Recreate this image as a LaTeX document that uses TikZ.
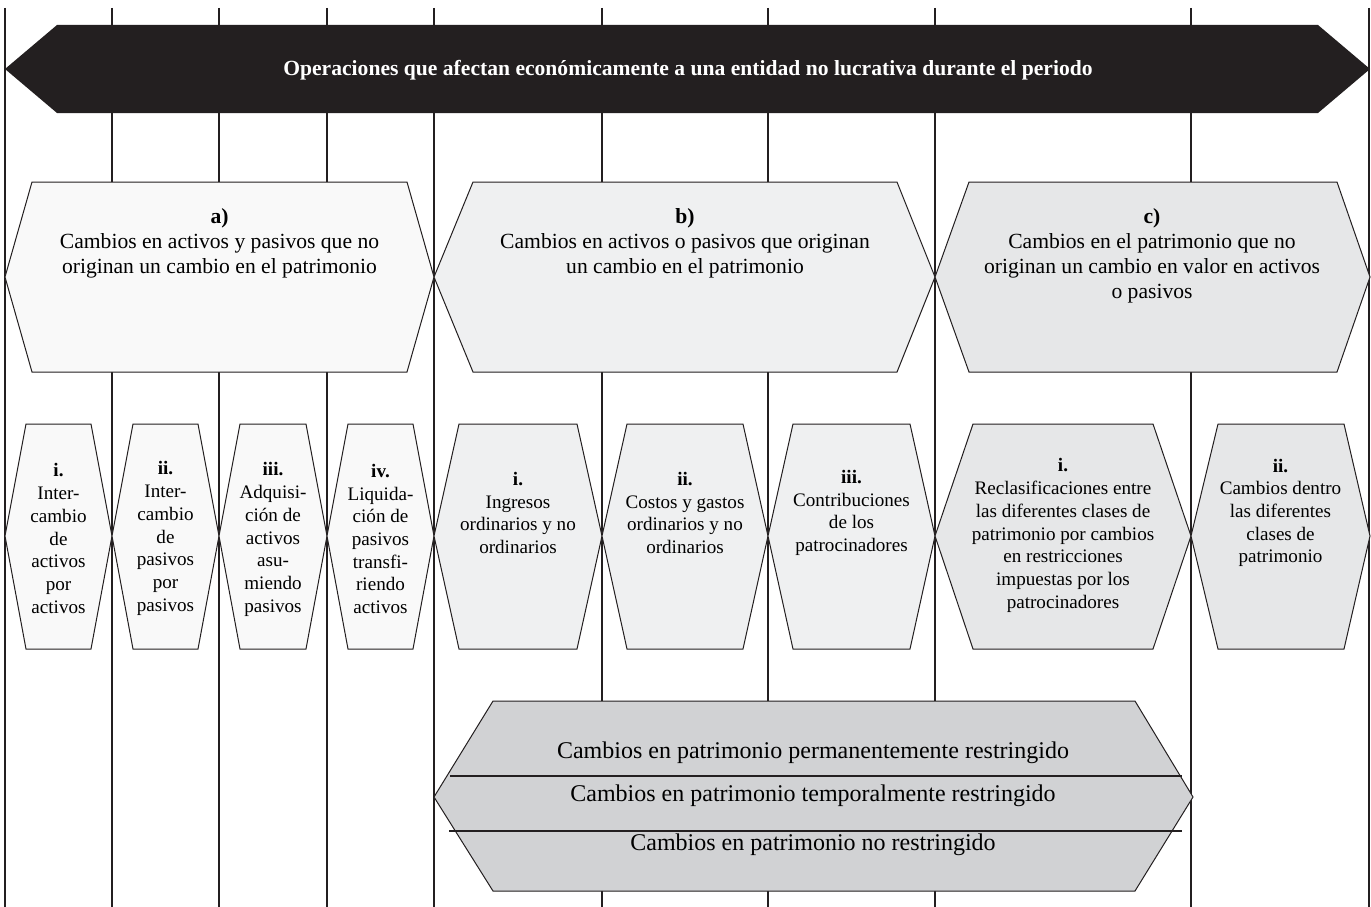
\documentclass[tikz,border=0pt]{standalone}
\usepackage{fontspec}
\setmainfont{Liberation Serif}
\definecolor{lineblk}{HTML}{231F20}
\definecolor{fillA}{HTML}{F9F9F9}
\definecolor{fillB}{HTML}{EFF0F1}
\definecolor{fillC}{HTML}{E6E7E8}
\definecolor{fillD}{HTML}{D1D2D4}

\begin{document}
\begin{tikzpicture}[x=1pt,y=-1pt,
    hexa/.style={draw=lineblk,line width=1pt},
    bigtxt/.style={align=center,inner sep=0pt,font=\fontsize{21.6}{25}\selectfont},
    smalltxt/.style={align=center,inner sep=0pt,font=\fontsize{19.1}{22.7}\selectfont},
    lowtxt/.style={inner sep=0pt,font=\fontsize{24}{28}\selectfont}]
                \useasboundingbox (0,0) rectangle (1371,907);
                \fill[white] (0,0) rectangle (1371,907);
                % lanes
                \foreach \x in {5,112,219,327,434,602,768,935,1191,1369}
                    \draw[lineblk,line width=1.3pt] (\x,8)--(\x,907);
                % top arrow
                \fill[lineblk] (5,69)--(57,25)--(1318,25)--(1370,69)--(1318,113)--(57,113)--cycle;
                \node[text=white,inner sep=0pt,font=\bfseries\fontsize{21.6}{25}\selectfont] (titulo) at (688,70)
                    {Operaciones que afectan económicamente a una entidad no lucrativa durante el periodo};
                % groups a) b) c)
                \draw[hexa,fill=fillA] (5,277)--(32,182)--(407,182)--(434,277)--(407,372)--(32,372)--cycle;
                \draw[hexa,fill=fillB] (434,277)--(473,182)--(897,182)--(935,277)--(897,372)--(473,372)--cycle;
                \draw[hexa,fill=fillC] (935,277)--(969,182)--(1337,182)--(1370,277)--(1337,372)--(969,372)--cycle;
                \node[bigtxt] (grupoA) at (219.5,243) {\textbf{a)}\\Cambios en activos y pasivos que no\\originan un cambio en el patrimonio};
                \node[bigtxt] (grupoB) at (685,243) {\textbf{b)}\\Cambios en activos o pasivos que originan\\un cambio en el patrimonio};
                \node[bigtxt] (grupoC) at (1152,255.5) {\textbf{c)}\\Cambios en el patrimonio que no\\originan un cambio en valor en activos\\o pasivos};
                % items of a)
                \foreach \l/\r in {5/112,112/219,219/327,327/434}
                    \draw[hexa,fill=fillA] (\l,536)--(\l+21,424)--(\r-21,424)--(\r,536)--(\r-21,649)--(\l+21,649)--cycle;
                % items of b)
                \foreach \l/\r in {434/602,602/768,768/935}
                    \draw[hexa,fill=fillB] (\l,536)--(\l+25,424)--(\r-25,424)--(\r,536)--(\r-25,649)--(\l+25,649)--cycle;
                % items of c)
                \draw[hexa,fill=fillC] (935,536)--(973,424)--(1153,424)--(1191,536)--(1153,649)--(973,649)--cycle;
                \draw[hexa,fill=fillC] (1191,536)--(1218,424)--(1344,424)--(1370,536)--(1344,649)--(1218,649)--cycle;
                \node[smalltxt] (aUno) at (58.5,538.5) {\textbf{i.}\\Inter-\\cambio\\de\\activos\\por\\activos};
                \node[smalltxt] (aDos) at (165.5,538.5) {\textbf{ii.}\\Inter-\\cambio\\de\\pasivos\\por\\pasivos};
                \node[smalltxt] (aTres) at (273,539.5) {\textbf{iii.}\\Adquisi-\\ción de\\activos\\asu-\\miendo\\pasivos};
                \node[smalltxt] (aCuatro) at (380.5,539) {\textbf{iv.}\\Liquida-\\ción de\\pasivos\\transfi-\\riendo\\activos};
                \node[smalltxt] (bUno) at (518,513) {\textbf{i.}\\Ingresos\\ordinarios y no\\ordinarios};
                \node[smalltxt] (bDos) at (685,513) {\textbf{ii.}\\Costos y gastos\\ordinarios y no\\ordinarios};
                \node[smalltxt] (bTres) at (851.5,513) {\textbf{iii.}\\Contribuciones\\de los\\patrocinadores};
                \node[smalltxt] (cUno) at (1063,535.5) {\textbf{i.}\\Reclasificaciones entre\\las diferentes clases de\\patrimonio por cambios\\en restricciones\\impuestas por los\\patrocinadores};
                \node[smalltxt] (cDos) at (1280.5,513) {\textbf{ii.}\\Cambios dentro\\las diferentes\\clases de\\patrimonio};
                % equity classes
                \draw[hexa,fill=fillD] (434,797)--(493,701)--(1135,701)--(1193,797)--(1135,891)--(493,891)--cycle;
                \draw[lineblk,line width=1.3pt] (450,776)--(1182,776);
                \draw[lineblk,line width=1.3pt] (449,831)--(1182,831);
                \node[lowtxt] (permanente) at (813,753) {Cambios en patrimonio permanentemente restringido};
                \node[lowtxt] (temporal) at (813,796) {Cambios en patrimonio temporalmente restringido};
                \node[lowtxt] (norestr) at (813,845) {Cambios en patrimonio no restringido};
\end{tikzpicture}
\end{document}
